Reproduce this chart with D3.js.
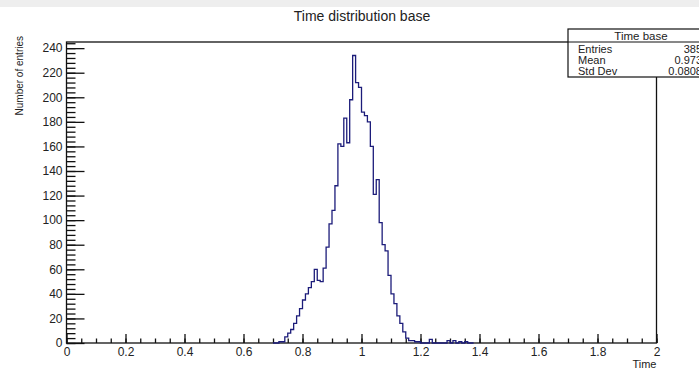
<!DOCTYPE html>
<html>
<head>
<meta charset="utf-8">
<script src="https://cdn.jsdelivr.net/npm/d3@7"></script>
<style>
  body { margin: 0; background: #fff; }
  svg { display: block; font-family: "Liberation Sans", Arial, sans-serif; }
</style>
</head>
<body>
<div id="chart"></div>
<script>
// histogram bins: 0.01 wide, first bin starts at 0.70
var binStart = 0.70;
var binWidth = 0.01;
var counts = [
  0, 0, 1, 1, 5, 8, 11, 16, 22, 28,           // 0.70 - 0.79
  35, 40, 45, 50, 60, 51, 50, 61, 78, 97,     // 0.80 - 0.89
  108, 128, 162, 160, 183, 163, 198, 234, 212, 208, // 0.90 - 0.99
  188, 185, 180, 160, 121, 133, 98, 80, 75, 55,     // 1.00 - 1.09
  40, 32, 22, 16, 9, 4, 2, 2, 1, 1,           // 1.10 - 1.19
  0, 0, 0, 3, 0, 0, 0, 0, 0, 2,               // 1.20 - 1.29
  0, 2, 0, 1, 0, 1, 0, 0                      // 1.30 - 1.37
];

var xMajor = [0, 0.2, 0.4, 0.6, 0.8, 1, 1.2, 1.4, 1.6, 1.8, 2];
var yMajor = [0, 20, 40, 60, 80, 100, 120, 140, 160, 180, 200, 220, 240];

var statsTitle = 'Time base';
var statsRows = [
  ['Entries', '385'],
  ['Mean', '0.973'],
  ['Std Dev', '0.0808']
];

var W = 699, H = 370;
var frame = {left: 66.5, right: 656.5, top: 42, bottom: 343};

var svg = d3.select('#chart')
  .append('svg')
    .attr('width', W)
    .attr('height', H);

svg.append('rect')
  .attr('x', 0).attr('y', 0)
  .attr('width', W).attr('height', 7)
  .attr('fill', '#eeeeee');

var x = d3.scaleLinear()
  .domain([0, 2])
  .range([frame.left, frame.right]);

var y = d3.scaleLinear()
  .domain([0, 245])
  .range([frame.bottom, frame.top]);

// title
svg.append('text')
  .attr('x', 362).attr('y', 21)
  .attr('text-anchor', 'middle')
  .attr('font-size', 14)
  .attr('fill', '#222')
  .text('Time distribution base');

// minor ticks
var xMinor = d3.range(0, 2.0001, 0.05);
var yMinor = d3.range(0, 245, 4);

svg.append('g')
  .attr('transform', 'translate(0,' + frame.bottom + ')')
  .call(d3.axisBottom(x).tickValues(xMinor).tickSize(-4.5).tickFormat(''))
  .call(g => g.select('.domain').remove());

svg.append('g')
  .attr('transform', 'translate(' + frame.left + ',0)')
  .call(d3.axisLeft(y).tickValues(yMinor).tickSize(-9).tickFormat(''))
  .call(g => g.select('.domain').remove());

// major ticks with labels
var xAxis = svg.append('g')
  .attr('transform', 'translate(0,' + frame.bottom + ')')
  .call(d3.axisBottom(x).tickValues(xMajor).tickSize(-9).tickPadding(4)
    .tickFormat(d3.format('~g')))
  .call(g => g.select('.domain').remove());
xAxis.selectAll('text')
  .attr('font-size', 12)
  .attr('fill', '#222')
  .attr('font-family', '"Liberation Sans", Arial, sans-serif');

var yAxis = svg.append('g')
  .attr('transform', 'translate(' + frame.left + ',0)')
  .call(d3.axisLeft(y).tickValues(yMajor).tickSize(-18).tickPadding(4))
  .call(g => g.select('.domain').remove());
yAxis.selectAll('text')
  .attr('font-size', 12)
  .attr('fill', '#222')
  .attr('font-family', '"Liberation Sans", Arial, sans-serif');

svg.selectAll('.tick line').attr('stroke', '#111').attr('stroke-width', 1.3);

// frame
svg.append('rect')
  .attr('x', frame.left).attr('y', frame.top)
  .attr('width', frame.right - frame.left)
  .attr('height', frame.bottom - frame.top)
  .attr('fill', 'none')
  .attr('stroke', '#111')
  .attr('stroke-width', 1.3);

// histogram outline
var path = 'M' + x(binStart) + ',' + y(0);
counts.forEach(function(c, i) {
  var hi = binStart + (i + 1) * binWidth;
  path += 'V' + y(c) + 'H' + x(hi);
});
path += 'V' + y(0);

svg.append('path')
  .attr('d', path)
  .attr('fill', 'none')
  .attr('stroke', '#1c1c7a')
  .attr('stroke-width', 1.3);

// axis titles
svg.append('text')
  .attr('x', frame.right).attr('y', 368)
  .attr('text-anchor', 'end')
  .attr('font-size', 11)
  .attr('fill', '#222')
  .text('Time');

svg.append('text')
  .attr('transform', 'translate(23,36) rotate(-90)')
  .attr('text-anchor', 'end')
  .attr('font-size', 10)
  .attr('fill', '#222')
  .text('Number of entries');

// stats box
var box = svg.append('g');
var bx = 568, by = 29, bw = 146, bh = 48;
box.append('rect')
  .attr('x', bx).attr('y', by)
  .attr('width', bw).attr('height', bh)
  .attr('fill', '#fff')
  .attr('stroke', '#111')
  .attr('stroke-width', 1.2);
box.append('line')
  .attr('x1', bx).attr('x2', bx + bw)
  .attr('y1', 42).attr('y2', 42)
  .attr('stroke', '#111')
  .attr('stroke-width', 1);
box.append('text')
  .attr('x', 641).attr('y', 40)
  .attr('text-anchor', 'middle')
  .attr('font-size', 11.5)
  .attr('fill', '#222')
  .text(statsTitle);
statsRows.forEach(function(r, i) {
  var ty = 52.5 + i * 11;
  box.append('text')
    .attr('x', 578).attr('y', ty)
    .attr('font-size', 11)
    .attr('fill', '#222')
    .text(r[0]);
  box.append('text')
    .attr('x', 702).attr('y', ty)
    .attr('text-anchor', 'end')
    .attr('font-size', 11)
    .attr('fill', '#222')
    .text(r[1]);
});
</script>
</body>
</html>
